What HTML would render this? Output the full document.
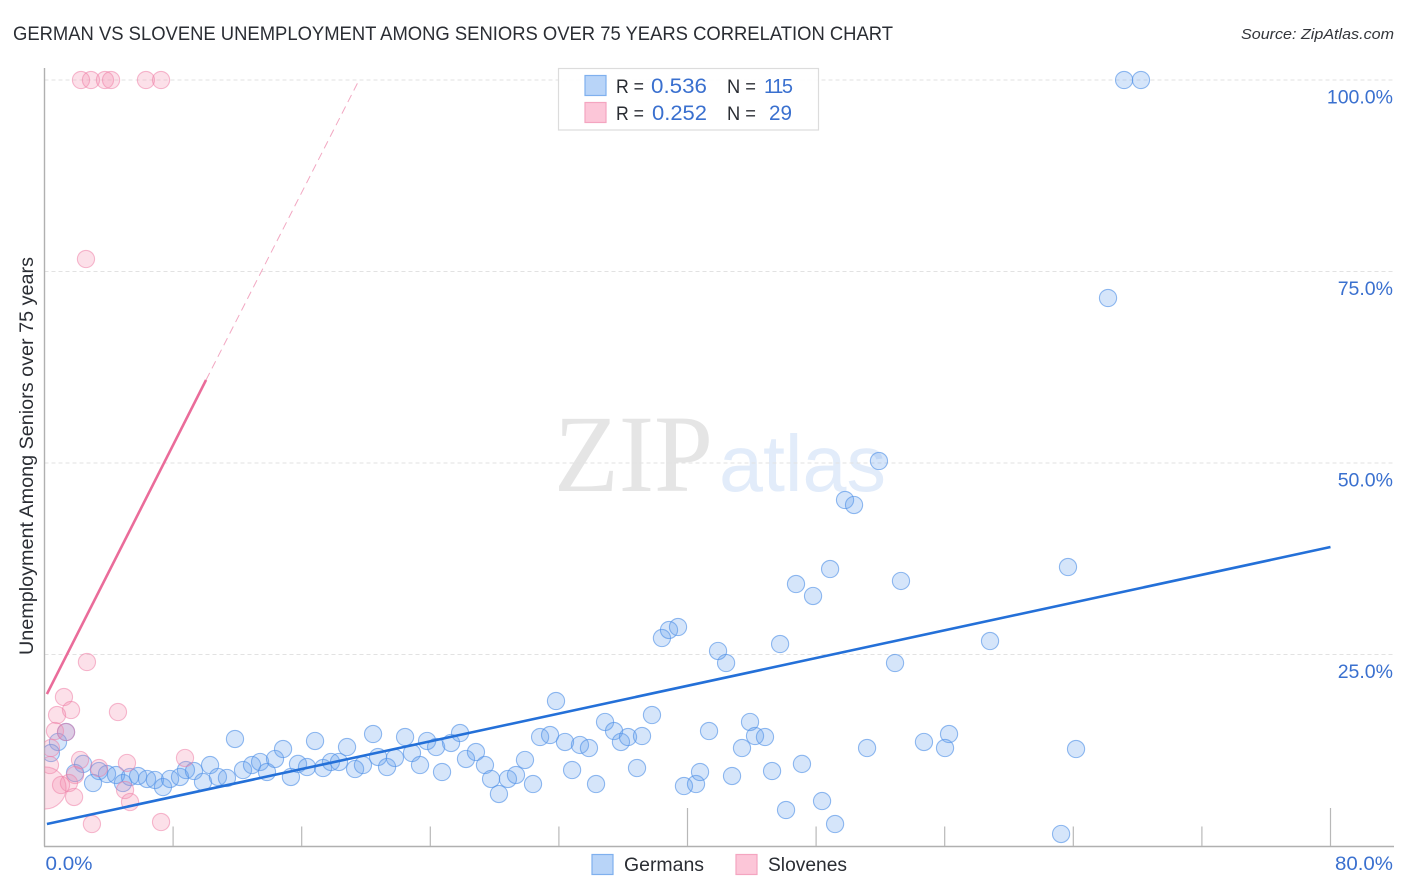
<!DOCTYPE html>
<html lang="en">
<head>
<meta charset="utf-8">
<title>German vs Slovene Unemployment Among Seniors over 75 Years Correlation Chart</title>
<style>
html,body{margin:0;padding:0;background:#fff;width:1406px;height:892px;overflow:hidden}
svg{display:block}
text{font-family:"Liberation Sans",sans-serif}
</style>
</head>
<body>
<svg id="chart" xmlns="http://www.w3.org/2000/svg" width="1406" height="892" viewBox="0 0 1406 892">
  <defs>
    <clipPath id="plot-clip"><rect x="44.5" y="60" width="1350" height="800"/></clipPath>
  </defs>
  <rect width="1406" height="892" fill="#ffffff"/>
  <text x="13" y="40" font-size="19.5" fill="#2a2d33" textLength="880" lengthAdjust="spacingAndGlyphs">GERMAN VS SLOVENE UNEMPLOYMENT AMONG SENIORS OVER 75 YEARS CORRELATION CHART</text>
  <text x="1394" y="39" font-size="15" font-style="italic" fill="#33363b" text-anchor="end" textLength="153" lengthAdjust="spacingAndGlyphs">Source: ZipAtlas.com</text>
  <g>
    <text x="554" y="491" font-size="110" fill="#e5e5e5" textLength="159" lengthAdjust="spacingAndGlyphs" style="font-family:'Liberation Serif',serif">ZIP</text>
    <text x="719" y="491" font-size="80" fill="#e2ecfa" textLength="167" lengthAdjust="spacingAndGlyphs">atlas</text>
  </g>
  <g id="grid"></g>
  <g id="axes">
    <line x1="44.5" y1="68" x2="44.5" y2="846.5" stroke="#b0b0b0" stroke-width="1.4"/>
    <line x1="44" y1="846.5" x2="1394" y2="846.5" stroke="#b0b0b0" stroke-width="1.4"/>
  </g>
  <g id="x-ticks"></g>
  <g id="y-labels"></g>
  <g id="x-labels"></g>
  <text transform="translate(33 456) rotate(-90)" font-size="19" fill="#2a2d33" text-anchor="middle" textLength="398" lengthAdjust="spacingAndGlyphs">Unemployment Among Seniors over 75 years</text>
  <g clip-path="url(#plot-clip)">
    <g id="german-points"></g>
    <g id="slovene-points"></g>
    <g id="trends"></g>
  </g>
  <g>
    <rect x="558.5" y="68.5" width="260" height="61.5" fill="#ffffff" fill-opacity="0.92" stroke="#dcdcdc" stroke-width="1.2"/>
    <rect x="585" y="75.5" width="21" height="20" fill="#b8d4f8" stroke="#7fb0ee" stroke-width="1.2"/>
    <rect x="585" y="102.5" width="21" height="20" fill="#fcc6d8" stroke="#f4a5c0" stroke-width="1.2"/>
    <g font-size="19.5" fill="#2a2d33">
      <text x="616" y="93" textLength="28" lengthAdjust="spacingAndGlyphs">R =</text>
      <text x="727" y="93" textLength="29" lengthAdjust="spacingAndGlyphs">N =</text>
      <text x="616" y="120" textLength="28" lengthAdjust="spacingAndGlyphs">R =</text>
      <text x="727" y="120" textLength="29" lengthAdjust="spacingAndGlyphs">N =</text>
    </g>
    <g font-size="21" fill="#3a70cf">
      <text x="651" y="93" textLength="56" lengthAdjust="spacingAndGlyphs">0.536</text>
      <text x="764" y="93" font-size="20" textLength="29" lengthAdjust="spacing">115</text>
      <text x="652" y="120" textLength="55" lengthAdjust="spacingAndGlyphs">0.252</text>
      <text x="769" y="120" textLength="23" lengthAdjust="spacingAndGlyphs">29</text>
    </g>
  </g>
  <g>
    <rect x="592" y="854.5" width="21" height="20" fill="#b8d4f8" stroke="#7fb0ee" stroke-width="1.2"/>
    <text x="624" y="871" font-size="19" fill="#2a2d33" textLength="80" lengthAdjust="spacingAndGlyphs">Germans</text>
    <rect x="736" y="854.5" width="21" height="20" fill="#fcc6d8" stroke="#f4a5c0" stroke-width="1.2"/>
    <text x="768" y="871" font-size="19" fill="#2a2d33" textLength="79" lengthAdjust="spacingAndGlyphs">Slovenes</text>
  </g>
</svg>
<script>
const germanX = [1.34,0.84,0.40,2.40,1.90,3.02,3.39,3.89,4.45,4.88,5.32,5.82,6.38,6.87,7.37,7.81,8.43,8.80,9.30,9.86,10.30,10.79,11.35,11.85,12.35,12.91,13.41,13.84,14.34,14.84,15.33,15.77,16.33,16.83,17.33,17.82,18.32,18.82,19.32,19.81,20.44,20.75,21.31,21.80,22.43,22.86,23.36,23.80,24.36,24.73,25.29,25.85,26.22,26.84,27.40,27.78,28.27,28.83,29.33,29.89,30.39,30.83,31.45,31.82,32.38,32.82,33.31,33.87,34.31,34.87,35.43,35.86,36.30,37.17,36.86,37.79,39.78,40.53,40.78,41.34,42.77,43.39,43.89,44.20,44.82,45.26,47.12,48.37,46.13,49.18,51.17,52.91,42.40,41.90,38.41,45.76,54.71,56.27,56.02,64.17,63.24,58.82,38.85,39.41,46.75,47.81,48.87,53.28,49.80,50.36,51.91,63.67,66.16,67.16,68.21];
const germanY = [14.88,13.58,12.14,10.71,9.53,8.22,9.79,9.40,9.27,8.22,9.01,9.14,8.75,8.62,7.70,8.75,9.01,9.92,9.79,8.36,10.57,9.01,8.88,13.97,9.92,10.57,10.97,9.66,11.36,12.66,9.01,10.71,10.31,13.71,10.18,10.97,10.97,12.92,10.05,10.57,14.62,11.62,10.31,11.49,14.23,12.14,10.57,13.71,12.92,9.66,13.45,14.75,11.36,12.27,10.57,8.75,6.79,8.75,9.27,11.23,8.09,14.23,14.49,18.93,13.58,9.92,13.19,12.79,8.09,16.19,15.01,13.58,14.23,14.36,10.18,17.10,7.83,8.09,9.66,15.01,9.14,12.79,16.19,14.36,14.23,9.79,10.71,5.87,4.70,2.87,12.79,23.89,23.89,25.46,27.15,26.37,13.58,14.62,12.79,12.66,1.57,26.76,28.20,28.59,34.20,32.64,36.16,34.60,45.17,44.52,50.26,36.42,71.54,100,100];
const sloveneX = [2.64,1.21,1.65,0.78,4.57,0.65,1.34,0.40,0.34,2.21,3.39,5.13,8.74,1.90,1.03,1.52,5.01,5.32,1.84,2.95,7.25,0.03,2.27,2.89,3.76,4.14,6.31,7.25,2.58];
const sloveneY = [24.02,19.45,17.75,17.10,17.49,15.01,14.88,12.79,10.57,11.23,10.18,10.84,11.49,9.27,7.96,8.22,7.31,5.74,6.40,2.87,3.13,7.57,100,100,100,100,100,100,76.63];
const sloveneCount = [1,1,1,1,1,1,1,1,1,1,1,1,1,1,1,1,1,1,1,1,1,6,1,1,1,1,1,1,1];
const germanTrendX = [0.15,80];
const germanTrendY = [2.87,39.03];
const sloveneTrendSolidX = [0.15,10.05];
const sloveneTrendSolidY = [19.84,60.84];
const sloveneTrendDashX = [10.05,19.57];
const sloveneTrendDashY = [60.84,100];
const yTickValues = [100,75,50,25];
const yTickLabels = ['100.0%','75.0%','50.0%','25.0%'];
const xTickValues = [8,16,24,32,40,48,56,64,72,80];
const xMajorTicks = [40,80];
const xEdgeValues = [0,80];
const xEdgeLabels = ['0.0%','80.0%'];

const NS = 'http://www.w3.org/2000/svg';
const xScale = v => 44.5 + v * (1330.5 - 44.5) / 80;
const yScale = v => 846 - v * (846 - 80) / 100;
const baseRadius = 8.6;

function make(tag, parent, attrs) {
  const el = document.createElementNS(NS, tag);
  Object.keys(attrs).forEach(k => el.setAttribute(k, attrs[k]));
  parent.appendChild(el);
  return el;
}

const gridGroup = document.getElementById('grid');
const yLabelGroup = document.getElementById('y-labels');
yTickValues.forEach((v, i) => {
  const line = make('line', gridGroup, {x1: 44.5, x2: 1394, y1: yScale(v), y2: yScale(v), stroke: '#e2e2e2', 'stroke-width': 1, 'stroke-dasharray': '4 3'});
  
  
  const label = make('text', yLabelGroup, {x: 1393, y: yScale(v) + 23.5, 'text-anchor': 'end', 'font-size': 19.5, fill: '#3a70cf'});
  
  
  label.textContent = yTickLabels[i];
});

const tickGroup = document.getElementById('x-ticks');
xTickValues.forEach(v => {
  const top = xMajorTicks.includes(v) ? 808 : 826.5;
  const tick = make('line', tickGroup, {x1: xScale(v), x2: xScale(v), y1: top, y2: 846, stroke: '#b8b8b8', 'stroke-width': 1.2});
  
  
});

const xLabelGroup = document.getElementById('x-labels');
xEdgeValues.forEach((v, i) => {
  const anchor = i === 0 ? 'start' : 'end';
  const px = i === 0 ? xScale(v) + 1 : 1393;
  const label = make('text', xLabelGroup, {x: px, y: 870, 'text-anchor': anchor, 'font-size': 19.5, fill: '#3a70cf', textLength: i === 0 ? 47 : 58, lengthAdjust: 'spacingAndGlyphs'});
  
  
  label.textContent = xEdgeLabels[i];
});

const germanGroup = document.getElementById('german-points');
germanX.forEach((v, i) => {
  const dot = make('circle', germanGroup, {cx: xScale(v), cy: yScale(germanY[i]), r: baseRadius, fill: 'rgba(98,160,238,0.27)', stroke: 'rgba(80,145,230,0.62)', 'stroke-width': 1.1});
  
  
});

const sloveneGroup = document.getElementById('slovene-points');
sloveneX.forEach((v, i) => {
  const dot = make('circle', sloveneGroup, {cx: xScale(v), cy: yScale(sloveneY[i]), r: baseRadius * Math.sqrt(sloveneCount[i]), fill: 'rgba(244,140,175,0.27)', stroke: 'rgba(238,125,165,0.52)', 'stroke-width': 1.1});
  
  
});

const trendGroup = document.getElementById('trends');
const germanLine = make('line', trendGroup, {x1: xScale(germanTrendX[0]), y1: yScale(germanTrendY[0]), x2: xScale(germanTrendX[1]), y2: yScale(germanTrendY[1]), stroke: '#2470d8', 'stroke-width': 2.6});


const sloveneSolid = make('line', trendGroup, {x1: xScale(sloveneTrendSolidX[0]), y1: yScale(sloveneTrendSolidY[0]), x2: xScale(sloveneTrendSolidX[1]), y2: yScale(sloveneTrendSolidY[1]), stroke: '#ea6c9a', 'stroke-width': 2.6});


const sloveneDash = make('line', trendGroup, {x1: xScale(sloveneTrendDashX[0]), y1: yScale(sloveneTrendDashY[0]), x2: xScale(sloveneTrendDashX[1]), y2: yScale(sloveneTrendDashY[1]), stroke: '#f2a8c2', 'stroke-width': 1, 'stroke-dasharray': '8 5'});


</script>
</body>
</html>
